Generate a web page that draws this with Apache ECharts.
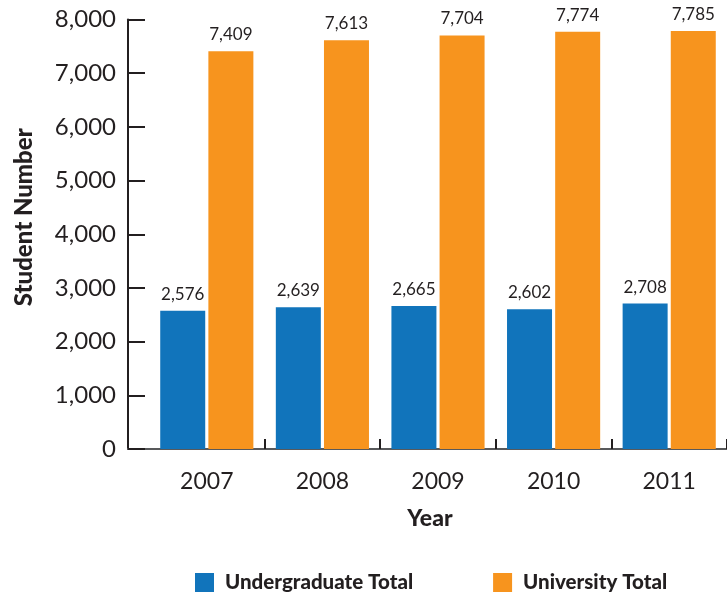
<!DOCTYPE html>
<html>
<head>
<meta charset="utf-8">
<script src="https://cdn.jsdelivr.net/npm/echarts@6/dist/echarts.min.js"></script>
<style>
html,body{margin:0;padding:0;background:#fff;}
#c{width:727px;height:600px;}
</style>
</head>
<body>
<div id="c"></div>
<script>
var years = ['2007', '2008', '2009', '2010', '2011'];
var undergraduate = [2576, 2639, 2665, 2602, 2708];
var university = [7409, 7613, 7704, 7774, 7785];
var seriesNames = ['Undergraduate Total', 'University Total'];
var yTicks = {min: 0, max: 8000, interval: 1000};

var INK = '#231f20';
var FONT = 'Lato, "Open Sans", sans-serif';
var chart = echarts.init(document.getElementById('c'));
function fmt(v){ return v.toLocaleString('en-US'); }

chart.setOption({
  animation: false,
  textStyle: {fontFamily: FONT, color: INK},
  grid: [
    {left: 128, right: 0, top: 19.5, bottom: 151},
    {left: 149, right: 0, top: 19.5, bottom: 151}
  ],
  xAxis: [
    {
      gridIndex: 0, type: 'value', min: 0, max: 1,
      axisLine: {show: true, onZero: false, lineStyle: {color: '#58595b', width: 2}},
      axisTick: {show: false}, axisLabel: {show: false}, splitLine: {show: false}
    },
    {
      gridIndex: 1, type: 'category', data: years,
      axisLine: {show: false},
      axisTick: {show: true, inside: true, length: 10,
        interval: function (i) { return i !== 0; },
        lineStyle: {color: INK, width: 2}},
      axisLabel: {color: INK, fontSize: 23, fontFamily: FONT, margin: 21},
      name: 'Year', nameLocation: 'middle', nameGap: 58,
      nameTextStyle: {fontSize: 23, fontWeight: 900, color: INK, fontFamily: FONT, padding: [0, 16, 0, 0]}
    }
  ],
  yAxis: [
    {
      gridIndex: 0, type: 'value', min: yTicks.min, max: yTicks.max, interval: yTicks.interval,
      axisLine: {show: true, onZero: false, lineStyle: {color: INK, width: 2}},
      axisTick: {show: true, inside: true, length: 17, lineStyle: {color: INK, width: 2}},
      axisLabel: {color: INK, fontSize: 24, fontFamily: FONT, margin: 12,
        padding: [10, 0, 0, 0],
        formatter: function (v) { return fmt(v); }},
      splitLine: {show: false},
      name: 'Student Number', nameLocation: 'middle', nameGap: 92, nameRotate: 90,
      nameTextStyle: {fontSize: 24, fontWeight: 900, color: INK, fontFamily: FONT, padding: [0, 0, 0, 34]}
    },
    {
      gridIndex: 1, type: 'value', min: yTicks.min, max: yTicks.max, interval: yTicks.interval,
      show: false
    }
  ],
  legend: {
    left: 195, top: 572, padding: 0,
    itemWidth: 19, itemHeight: 19, itemGap: 80,
    icon: 'rect',
    textStyle: {fontSize: 20.5, fontWeight: 900, color: INK, fontFamily: FONT, padding: [0, 0, 0, 6]},
    data: seriesNames
  },
  series: [
    {
      name: seriesNames[0], type: 'bar', xAxisIndex: 1, yAxisIndex: 1,
      data: undergraduate, barWidth: 45, barGap: '7%',
      itemStyle: {color: '#1174bb'},
      label: {show: true, position: 'top', distance: 8, fontSize: 17, color: INK, fontFamily: FONT,
        formatter: function (p) { return fmt(p.value); }}
    },
    {
      name: seriesNames[1], type: 'bar', xAxisIndex: 1, yAxisIndex: 1,
      data: university, barWidth: 45, barGap: '7%',
      itemStyle: {color: '#f7941e'},
      label: {show: true, position: 'top', distance: 8, fontSize: 17, color: INK, fontFamily: FONT,
        formatter: function (p) { return fmt(p.value); }}
    }
  ]
});
</script>
</body>
</html>
